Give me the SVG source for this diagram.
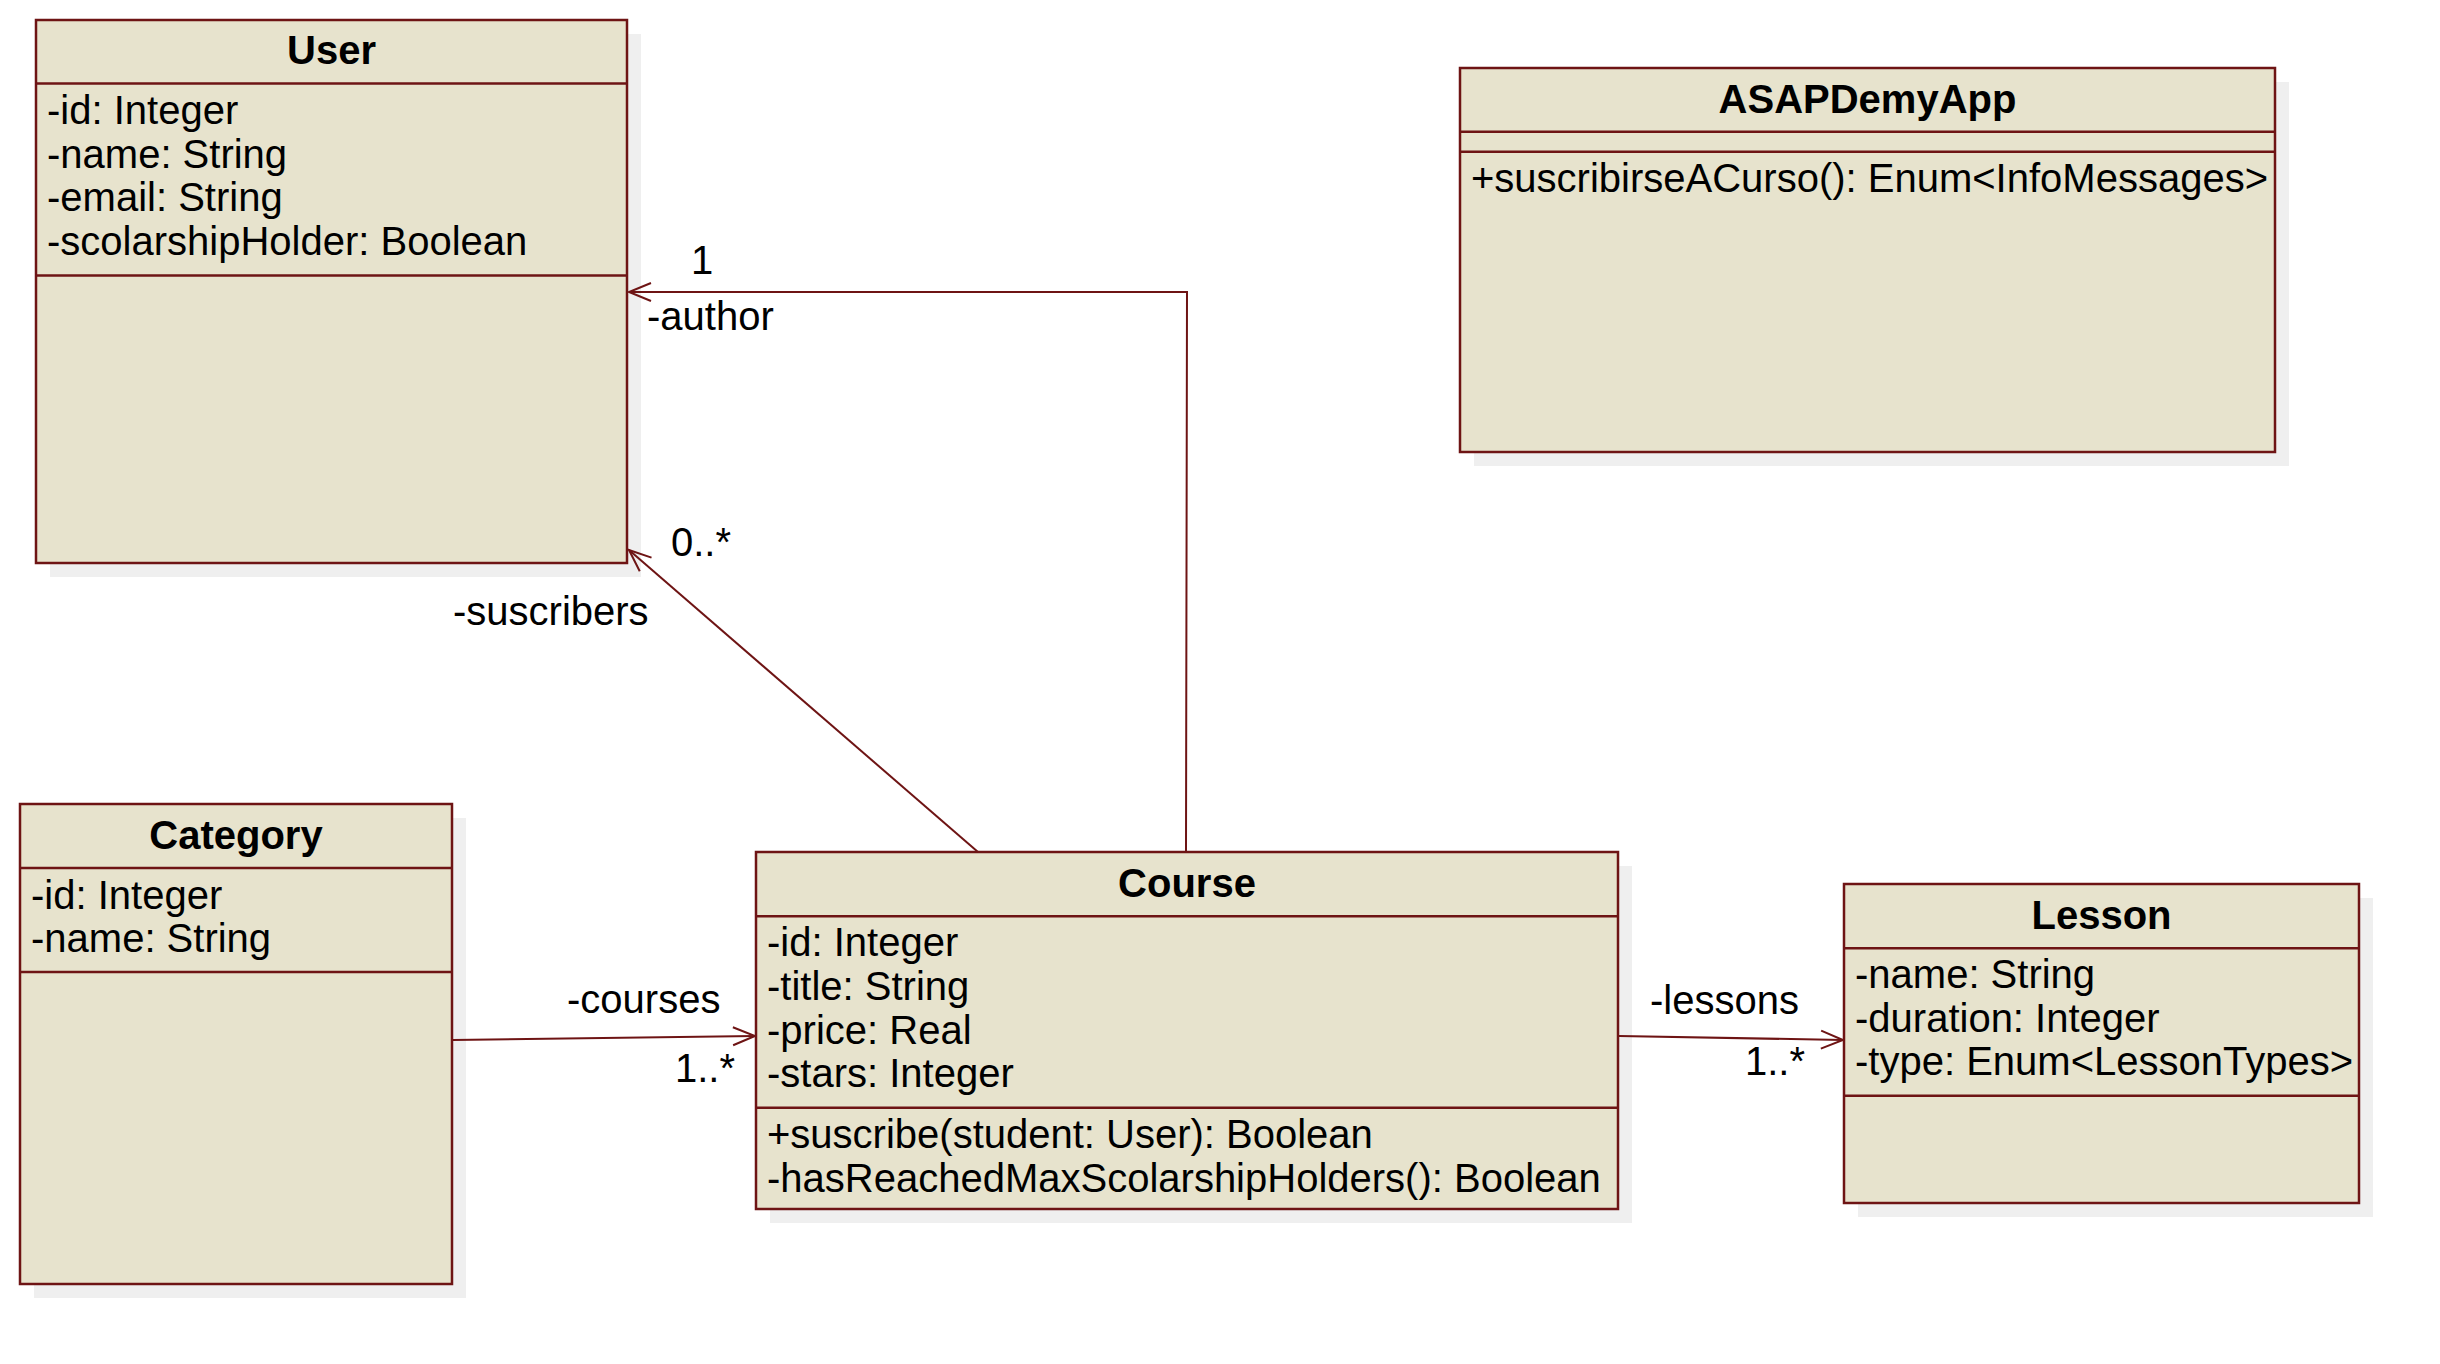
<svg xmlns="http://www.w3.org/2000/svg" width="2440" height="1364" viewBox="0 0 2440 1364">
  <style>
    .shadow { fill: #efefef; stroke: none; }
    .box { fill: #e7e3cd; stroke: #6e1414; stroke-width: 2.5; }
    .sep { stroke: #6e1414; stroke-width: 2.5; fill: none; }
    .title { font-family: "Liberation Sans", Arial, sans-serif; font-weight: bold; font-size: 40px; fill: #000; text-anchor: middle; }
    .member { font-family: "Liberation Sans", Arial, sans-serif; font-size: 40px; fill: #000; }
    .label { font-family: "Liberation Sans", Arial, sans-serif; font-size: 40px; fill: #000; }
    .assoc { fill: none; stroke: #6e1414; stroke-width: 2; }
  </style>
  <defs>
    <marker id="open-arrow" viewBox="-24 -11 26 22" markerWidth="26" markerHeight="22" refX="0" refY="0" orient="auto" markerUnits="userSpaceOnUse">
      <path d="M-22,-9 L0,0 L-22,9" fill="none" stroke="#6e1414" stroke-width="2"/>
    </marker>
  </defs>
  <rect width="2440" height="1364" fill="#ffffff"/>

  <!-- User -->
  <g id="user">
    <rect class="shadow" x="50" y="34" width="591" height="543"/>
    <rect class="box" x="36" y="20" width="591" height="543"/>
    <line class="sep" x1="36" y1="83.5" x2="627" y2="83.5"/>
    <line class="sep" x1="36" y1="275.5" x2="627" y2="275.5"/>
    <text class="title" x="331.5" y="64">User</text>
    <text class="member" x="47" y="124">-id: Integer</text>
    <text class="member" x="47" y="167.7">-name: String</text>
    <text class="member" x="47" y="211.4">-email: String</text>
    <text class="member" x="47" y="255">-scolarshipHolder: Boolean</text>
  </g>

  <!-- ASAPDemyApp -->
  <g id="asapdemyapp">
    <rect class="shadow" x="1474" y="82" width="815" height="384"/>
    <rect class="box" x="1460" y="68" width="815" height="384"/>
    <line class="sep" x1="1460" y1="131.7" x2="2275" y2="131.7"/>
    <line class="sep" x1="1460" y1="151.7" x2="2275" y2="151.7"/>
    <text class="title" x="1867.5" y="112.5">ASAPDemyApp</text>
    <text class="member" x="1471" y="191.7">+suscribirseACurso(): Enum&lt;InfoMessages&gt;</text>
  </g>

  <!-- Category -->
  <g id="category">
    <rect class="shadow" x="34" y="818" width="432" height="480"/>
    <rect class="box" x="20" y="804" width="432" height="480"/>
    <line class="sep" x1="20" y1="868" x2="452" y2="868"/>
    <line class="sep" x1="20" y1="972" x2="452" y2="972"/>
    <text class="title" x="236" y="848.5">Category</text>
    <text class="member" x="31" y="908.5">-id: Integer</text>
    <text class="member" x="31" y="952.2">-name: String</text>
  </g>

  <!-- Course -->
  <g id="course">
    <rect class="shadow" x="770" y="866" width="862" height="357"/>
    <rect class="box" x="756" y="852" width="862" height="357"/>
    <line class="sep" x1="756" y1="916.3" x2="1618" y2="916.3"/>
    <line class="sep" x1="756" y1="1107.7" x2="1618" y2="1107.7"/>
    <text class="title" x="1187" y="896.5">Course</text>
    <text class="member" x="767" y="956.3">-id: Integer</text>
    <text class="member" x="767" y="1000">-title: String</text>
    <text class="member" x="767" y="1043.7">-price: Real</text>
    <text class="member" x="767" y="1087.4">-stars: Integer</text>
    <text class="member" x="767" y="1148.2">+suscribe(student: User): Boolean</text>
    <text class="member" x="767" y="1191.9">-hasReachedMaxScolarshipHolders(): Boolean</text>
  </g>

  <!-- Lesson -->
  <g id="lesson">
    <rect class="shadow" x="1858" y="898" width="515" height="319"/>
    <rect class="box" x="1844" y="884" width="515" height="319"/>
    <line class="sep" x1="1844" y1="948.3" x2="2359" y2="948.3"/>
    <line class="sep" x1="1844" y1="1095.7" x2="2359" y2="1095.7"/>
    <text class="title" x="2101.5" y="928.5">Lesson</text>
    <text class="member" x="1855" y="988.3">-name: String</text>
    <text class="member" x="1855" y="1031.8">-duration: Integer</text>
    <text class="member" x="1855" y="1075.3">-type: Enum&lt;LessonTypes&gt;</text>
  </g>

  <!-- Associations -->
  <g id="connectors">
    <polyline class="assoc" points="1186,852 1187,292 629,292" marker-end="url(#open-arrow)"/>
    <line class="assoc" x1="978" y1="852" x2="629" y2="550" marker-end="url(#open-arrow)"/>
    <line class="assoc" x1="453" y1="1040" x2="755" y2="1036" marker-end="url(#open-arrow)"/>
    <line class="assoc" x1="1619" y1="1036" x2="1843" y2="1040" marker-end="url(#open-arrow)"/>

    <text class="label" x="702" y="274" text-anchor="middle">1</text>
    <text class="label" x="647" y="330">-author</text>
    <text class="label" x="671" y="556">0..*</text>
    <text class="label" x="453" y="625">-suscribers</text>
    <text class="label" x="567" y="1013">-courses</text>
    <text class="label" x="675" y="1081.5">1..*</text>
    <text class="label" x="1650" y="1014">-lessons</text>
    <text class="label" x="1745" y="1075">1..*</text>
  </g>
</svg>
